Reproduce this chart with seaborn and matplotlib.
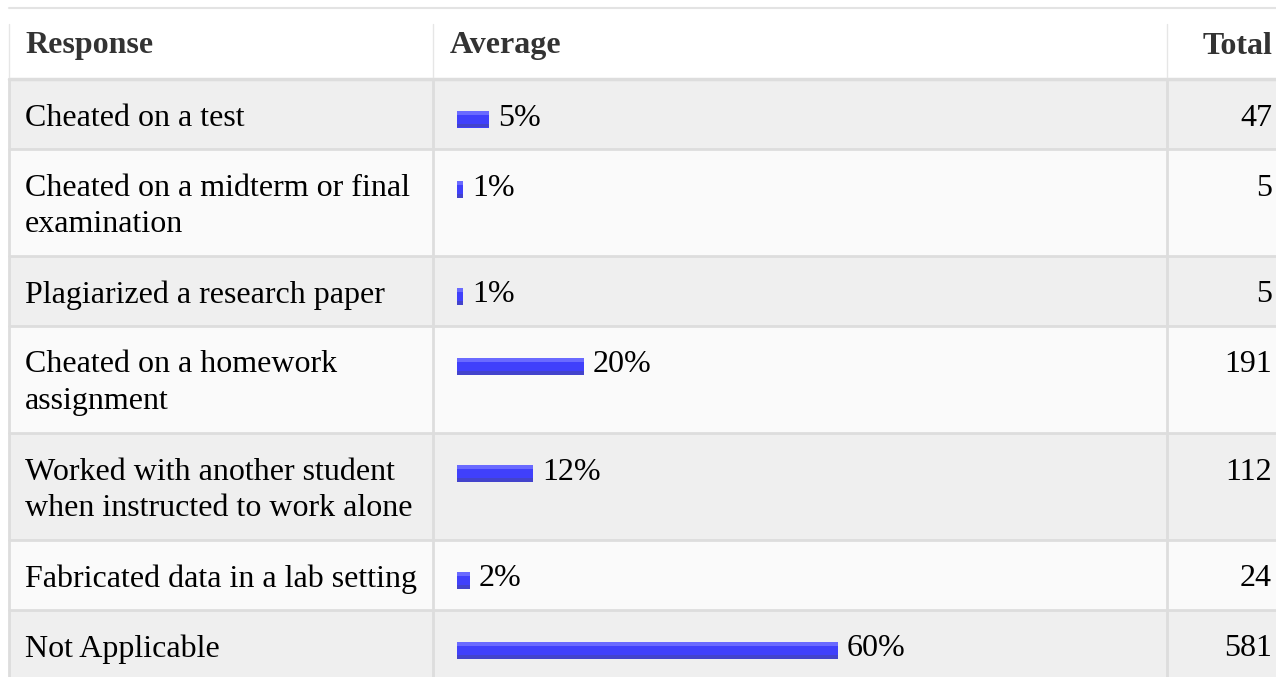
import numpy as np
import matplotlib.pyplot as plt
import seaborn as sns
from matplotlib.patches import Rectangle

# Survey data
responses = [
    "Cheated on a test",
    "Cheated on a midterm or final\nexamination",
    "Plagiarized a research paper",
    "Cheated on a homework\nassignment",
    "Worked with another student\nwhen instructed to work alone",
    "Fabricated data in a lab setting",
    "Not Applicable",
]
shares = [5, 1, 1, 20, 12, 2, 60]          # Average, in percent
totals = [47, 5, 5, 191, 112, 24, 581]     # Total
headers = ["Response", "Average", "Total"]

sns.set_theme(style="white")
plt.rcParams['font.family'] = ['Liberation Serif', 'DejaVu Serif']

W, H = 1276, 677
fig = plt.figure(figsize=(W / 100, H / 100), dpi=100)
fig.patch.set_facecolor('white')

# table canvas in pixel units
ax = fig.add_axes([0, 0, 1, 1])
ax.set_xlim(0, W)
ax.set_ylim(H, 0)
ax.axis('off')

line_c = '#dddddd'
left, col1, col2 = 9, 433, 1167
head_top, head_bot = 24, 79
row_h1, line_gap = 70, 37
fs = 23

# row layout
tops = [head_bot]
for r in responses:
    tops.append(tops[-1] + row_h1 + line_gap * (r.count('\n')))
text_y = [t + 39 for t in tops[:-1]]

# backgrounds
for i in range(len(responses)):
    ax.axhspan(tops[i], tops[i + 1], xmin=left / W, xmax=1,
               color='#efefef' if i % 2 == 0 else '#fafafa', lw=0, zorder=0)

# grid lines
ax.plot([left, W], [8, 8], color='#e3e3e3', lw=1.5, zorder=1)
ax.plot([left, W], [head_bot, head_bot], color=line_c, lw=2.5, zorder=2)
for t in tops[1:-1]:
    ax.plot([left, W], [t, t], color=line_c, lw=2, zorder=2)
for x in [left, col1, col2]:
    ax.plot([x, x], [head_top, head_bot], color='#e6e6e6', lw=1, zorder=2)
    ax.plot([x, x], [head_bot, H], color=line_c, lw=2, zorder=2)

# header
hy = 46
ax.text(25, hy, headers[0], fontsize=fs, fontweight='bold', color='#333333', va='center')
ax.text(450, hy, headers[1], fontsize=fs, fontweight='bold', color='#333333', va='center')
ax.text(1272, hy, headers[2], fontsize=fs, fontweight='bold', color='#333333', va='center', ha='right')

# body text
for r, y, n in zip(responses, text_y, totals):
    for k, line in enumerate(r.split('\n')):
        ax.text(25, y + k * line_gap, line, fontsize=fs, color='black', va='center')
    ax.text(1272, y, str(n), fontsize=fs, color='black', va='center', ha='right')

# bars in the Average column
bar_x0 = 457
px_per_pct = 381 / 60
bax = fig.add_axes([bar_x0 / W, 0, 100 * px_per_pct / W, 1])
bax.patch.set_alpha(0)
bar_y = [y + 1 for y in text_y]
bar_h = 17
sns.barplot(x=shares, y=bar_y, orient='y', native_scale=True,
            width=bar_h / np.diff(sorted(bar_y)).min(),
            color='#4040fb', saturation=1, errorbar=None, linewidth=0, ax=bax)
bax.set_xlim(0, 100)
bax.set_ylim(H, 0)
bax.axis('off')

# light top / dark bottom band, like the original bar image
for p in list(bax.patches):
    x0, y0, w, h = p.get_x(), p.get_y(), p.get_width(), p.get_height()
    bax.add_patch(Rectangle((x0, y0), w, h * 0.25, color='#6a6aff', lw=0))
    bax.add_patch(Rectangle((x0, y0 + h * 0.78), w, h * 0.22, color='#4343cc', lw=0))

for v, y in zip(shares, text_y):
    bax.annotate(f"{v}%", xy=(v, y), xytext=(9, 0), textcoords='offset pixels',
                 fontsize=fs, color='black', va='center', ha='left')

fig.savefig('out.png', dpi=100)
